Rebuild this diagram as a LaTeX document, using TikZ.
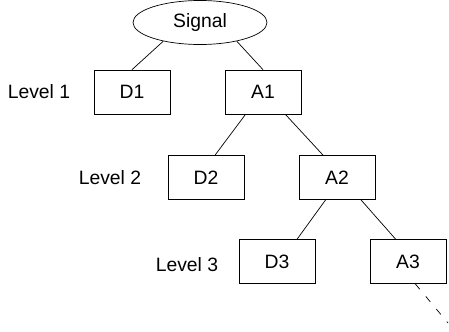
\documentclass[tikz,border=0pt]{standalone}
\usepackage{fontspec}
\setmainfont{Liberation Sans}
\usetikzlibrary{shapes.geometric}
\begin{document}
\begin{tikzpicture}[x=0.03cm,y=-0.03cm,line width=0.6pt,font=\fontsize{16.5}{19}\selectfont,
	box/.style={draw,rectangle,minimum width=2.28cm,minimum height=1.32cm,inner sep=0pt},
	lvl/.style={inner sep=0pt}]
	\useasboundingbox(0,0)rectangle(449,331);
	\node[draw,ellipse,minimum width=4.02cm,minimum height=1.32cm,inner sep=0pt](sig)at(200,22.5){Signal};
	\node[box](d1)at(132,92){D1};
	\node[box](a1)at(263,92){A1};
	\node[box](d2)at(206,177.5){D2};
	\node[box](a2)at(337,177.5){A2};
	\node[box](d3)at(277,261.5){D3};
	\node[box](a3)at(408,261.5){A3};
	\node[lvl](l1)at(39,92){Level 1};
	\node[lvl](l2)at(110,178){Level 2};
	\node[lvl](l3)at(187,265){Level 3};
	\coordinate(more)at(448,323);
	\draw(sig.207)--(d1.north);
	\draw(sig.333)--(a1.north);
	\draw(a1.232)--(d2.68);
	\draw(a1.315)--(a2.122);
	\draw(a2.243)--(d3.48);
	\draw(a2.317)--(a3.119);
	\draw[dash pattern=on 6pt off 8pt](a3.288)--(more);
\end{tikzpicture}
\end{document}
